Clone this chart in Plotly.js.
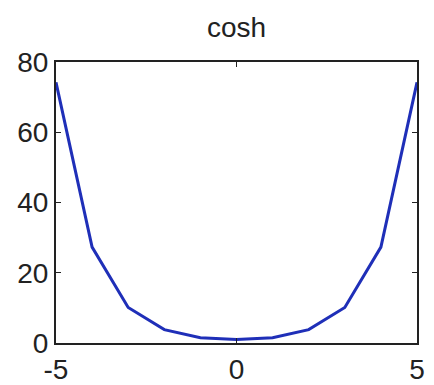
<!DOCTYPE html>
<html>
<head>
<meta charset="utf-8">
<script src="https://cdn.plot.ly/plotly-3.0.1.min.js"></script>
<style>html,body{margin:0;padding:0;background:#fff;}#chart{width:434px;height:385px;}</style>
</head>
<body>
<div id="chart"></div>
<script>
const xValues = [-5, -4, -3, -2, -1, 0, 1, 2, 3, 4, 5];
const yValues = [74.2, 27.3, 10.1, 3.8, 1.5, 1.0, 1.5, 3.8, 10.1, 27.3, 74.2];
const xTicks = [-5, 0, 5];
const yTicks = [0, 20, 40, 60, 80];

const trace = {
  x: xValues, y: yValues, type: 'scatter', mode: 'lines',
  line: {color: '#1f2fb8', width: 3}, hoverinfo: 'none'
};
const axisFont = {family: 'Liberation Sans, Arial, sans-serif', size: 28, color: '#222'};
const layout = {
  width: 434, height: 385,
  margin: {l: 56, r: 17, t: 62, b: 42},
  paper_bgcolor: '#fff', plot_bgcolor: '#fff',
  showlegend: false,
  title: {text: 'cosh', font: {family: 'Liberation Sans, Arial, sans-serif', size: 28, color: '#222'}, x: 0.545, xanchor: 'center', y: 0.93, yanchor: 'middle'},
  xaxis: {range: [-5, 5], tickvals: xTicks, ticktext: xTicks.map(String), ticks: 'inside', ticklen: 5, tickcolor: '#222',
          showgrid: false, zeroline: false, showline: true, linecolor: '#222', linewidth: 2, mirror: 'ticks',
          tickfont: axisFont, ticklabelstandoff: 0},
  yaxis: {range: [0, 80], tickvals: yTicks, ticktext: yTicks.map(String), ticks: 'inside', ticklen: 5, tickcolor: '#222',
          showgrid: false, zeroline: false, showline: true, linecolor: '#222', linewidth: 2, mirror: 'ticks',
          tickfont: axisFont}
};
Plotly.newPlot('chart', [trace], layout, {staticPlot: true, displayModeBar: false});
</script>
</body>
</html>
